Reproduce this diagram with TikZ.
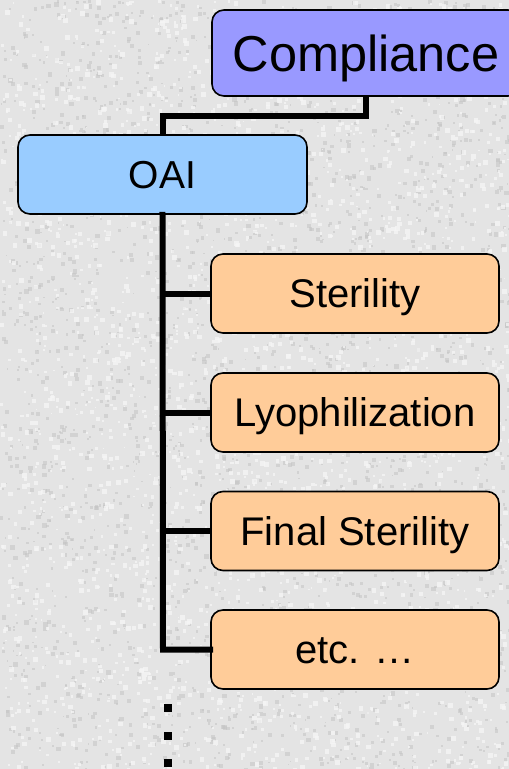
\documentclass[tikz,border=0pt]{standalone}
\usepackage{fontspec}
\setmainfont{Liberation Sans}
\begin{document}
\begin{tikzpicture}[x=1pt,y=-1pt,
  box/.style={draw=black,line width=1.6pt,rounded corners=12pt,inner sep=0pt,
    font=\fontsize{40}{42}\selectfont,text height=28.6pt,text depth=0pt},
  topbox/.style={box,fill=topblue,minimum width=308pt,minimum height=86pt,
    font=\fontsize{50.5}{53}\selectfont,text height=36.2pt},
  midbox/.style={box,fill=midblue,minimum width=289pt,minimum height=79pt,
    font=\fontsize{39}{41}\selectfont,text height=27.9pt},
  leafbox/.style={box,fill=leaforange,minimum width=288pt,minimum height=79pt},
  link/.style={line width=6pt},
  dot/.style={fill=black,inner sep=0pt,minimum size=8pt}]
\definecolor{topblue}{HTML}{9999FF}
\definecolor{midblue}{HTML}{99CCFF}
\definecolor{leaforange}{HTML}{FFCC99}
\definecolor{paper}{HTML}{E4E4E4}
\definecolor{speckdark}{HTML}{C6C6C6}
\definecolor{specklight}{HTML}{F6F6F6}
\useasboundingbox (0,0) rectangle (509,769);
\clip (0,0) rectangle (509,769);
\fill[paper] (0,0) rectangle (509,769);

% grainy paper texture
\pgfmathsetseed{4242}
\foreach \i in {1,...,2600}{
  \pgfmathsetmacro{\px}{rnd*509}
  \pgfmathsetmacro{\py}{rnd*769}
  \pgfmathsetmacro{\ps}{1.5+rnd*3}
  \fill[speckdark,opacity=0.6] (\px,\py) rectangle ++(\ps,\ps);
}
\foreach \i in {1,...,2600}{
  \pgfmathsetmacro{\px}{rnd*509}
  \pgfmathsetmacro{\py}{rnd*769}
  \pgfmathsetmacro{\ps}{1.5+rnd*3.5}
  \fill[specklight,opacity=0.75] (\px,\py) rectangle ++(\ps,\ps);
}

% hierarchy boxes
\node[topbox] (comp) at (366,53) {Compliance};
\node[midbox] (oai) at (162.5,174.5) {OAI};
\node[leafbox] (s1) at (355,293.5) {Sterility};
\node[leafbox] (s2) at (355,412.5) {Lyophilization};
\node[leafbox] (s3) at (355,531) {Final Sterility};
\node[leafbox] (s4) at (355,649.5) {etc. \ldots};

% continuation marks below the trunk
\node[dot] (d1) at (168,708) {};
\node[dot] (d2) at (168,735.5) {};
\node[dot] (d3) at (168,763) {};

% connectors
\coordinate (trunk) at (163,0);
\draw[link] (comp.south) -- ++(0,19) -| (oai.north);
\draw[link,line cap=rect] (oai.south) -- (trunk |- s4.west) -- (s4.west);
\draw[link] (trunk |- s1.west) -- (s1.west);
\draw[link] (trunk |- s2.west) -- (s2.west);
\draw[link] (trunk |- s3.west) -- (s3.west);
\end{tikzpicture}
\end{document}
